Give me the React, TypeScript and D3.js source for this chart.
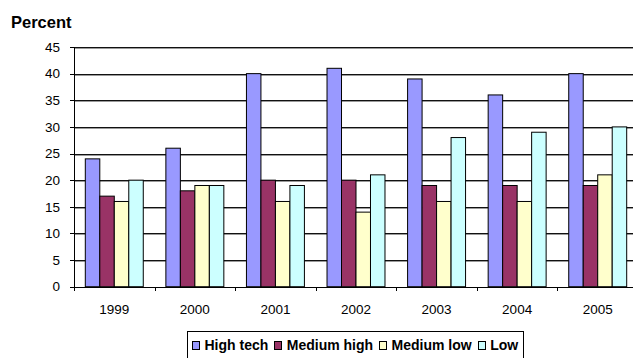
import React from "react";
import * as d3 from "d3";

const years = ["1999", "2000", "2001", "2002", "2003", "2004", "2005"];
const seriesNames = ["High tech", "Medium high", "Medium low", "Low"];
const highTech = [24, 26, 40, 41, 39, 36, 40];
const mediumHigh = [17, 18, 20, 20, 19, 19, 19];
const mediumLow = [16, 19, 16, 14, 16, 16, 21];
const low = [20, 19, 19, 21, 28, 29, 30];
const yTicks = [0, 5, 10, 15, 20, 25, 30, 35, 40, 45];

const seriesValues = [highTech, mediumHigh, mediumLow, low];
const colors = ["#9999FF", "#993366", "#FFFFCC", "#CCFFFF"];

const W = 633;
const H = 358;
const FONT = "'Liberation Sans', Arial, sans-serif";

function measure(text: string, font: string): number {
  const c = document.createElement("canvas").getContext("2d");
  if (!c) return text.length * 8;
  c.font = font;
  return c.measureText(text).width;
}

export default function App() {
  const x0 = d3.scaleBand<string>().domain(years).range([74, 638]).padding(0);
  const x1 = d3
    .scaleBand<string>()
    .domain(seriesNames)
    .range([0, x0.bandwidth()])
    .paddingInner(0)
    .paddingOuter(0.78);
  const y = d3.scaleLinear().domain([0, 45]).range([286.7, 47]);
  const snap = (v: number) => Math.round(v) + 0.5;

  // legend layout
  const legendFont = `bold 14px ${FONT}`;
  let cursor = 192;
  const legendItems = seriesNames.map((name, i) => {
    const sx = cursor;
    const tx = sx + 12.5;
    const tw = measure(name, legendFont);
    cursor = tx + tw + 6;
    return { name, sx, tx, color: colors[i] };
  });
  const legendRight = cursor - 0.5;

  return (
    <svg
      width={W}
      height={H}
      style={{ position: "absolute", left: 0, top: 0, background: "#fff" }}
      fontFamily={FONT}
    >
      <text x={11} y={28.3} fontSize={16.5} fontWeight="bold" fill="#000">
        Percent
      </text>

      {/* horizontal gridlines with a soft shadow */}
      {yTicks
        .filter((t) => t > 0)
        .map((t) => (
          <g key={`g${t}`} shapeRendering="crispEdges">
            <line x1={74} x2={W} y1={snap(y(t)) + 1} y2={snap(y(t)) + 1} stroke="#9a9a9a" />
            <line x1={74} x2={W} y1={snap(y(t))} y2={snap(y(t))} stroke="#111" />
          </g>
        ))}

      {/* bars */}
      {years.map((yr, i) => (
        <g key={yr} transform={`translate(${x0(yr)},0)`}>
          {seriesNames.map((s, j) => {
            const v = seriesValues[j][i];
            return (
              <rect
                key={s}
                x={(x1(s) as number)}
                y={y(v)}
                width={x1.bandwidth()}
                height={y(0) - y(v)}
                fill={colors[j]}
                stroke="#000"
                strokeWidth={1}
              />
            );
          })}
        </g>
      ))}

      {/* y axis */}
      <g shapeRendering="crispEdges">
        <line x1={74.5} x2={74.5} y1={snap(y(45))} y2={290} stroke="#000" />
        {yTicks.map((t) => (
          <line key={`yt${t}`} x1={70} x2={74.5} y1={snap(y(t))} y2={snap(y(t))} stroke="#000" />
        ))}
        <line x1={74} x2={W} y1={snap(y(0))} y2={snap(y(0))} stroke="#000" />
        {years.map((yr) => (
          <line
            key={`xt${yr}`}
            x1={snap(x0(yr) as number)}
            x2={snap(x0(yr) as number)}
            y1={snap(y(0))}
            y2={291}
            stroke="#000"
          />
        ))}
      </g>
      {yTicks.map((t) => (
        <text
          key={`yl${t}`}
          x={60}
          y={y(t)}
          dy="0.35em"
          textAnchor="end"
          fontSize={13.5}
          fill="#000"
        >
          {t}
        </text>
      ))}
      {years.map((yr) => (
        <text
          key={`xl${yr}`}
          x={(x0(yr) as number) + x0.bandwidth() / 2}
          y={313.5}
          textAnchor="middle"
          fontSize={13.5}
          fill="#000"
        >
          {yr}
        </text>
      ))}

      {/* legend */}
      <rect
        x={187.5}
        y={331.5}
        width={legendRight - 187.5}
        height={40}
        fill="#fff"
        stroke="#000"
        shapeRendering="crispEdges"
      />
      {legendItems.map((it) => (
        <g key={it.name}>
          <rect
            x={it.sx + 0.5}
            y={341.5}
            width={7}
            height={8}
            fill={it.color}
            stroke="#000"
            shapeRendering="crispEdges"
          />
          <text x={it.tx} y={349.5} fontSize={14} fontWeight="bold" fill="#000">
            {it.name}
          </text>
        </g>
      ))}
    </svg>
  );
}
